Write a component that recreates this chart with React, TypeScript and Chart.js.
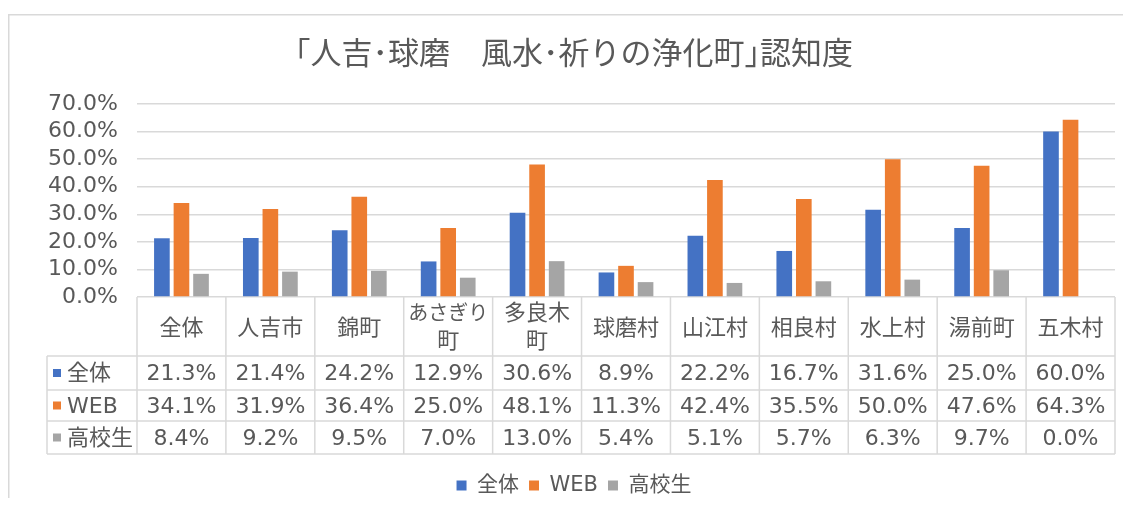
import React, { useEffect, useRef } from 'react';
import { Chart, registerables } from 'chart.js';

Chart.register(...registerables);

const titleText = '｢人吉･球磨　風水･祈りの浄化町｣認知度';
const categories = ['全体', '人吉市', '錦町', 'あさぎり町', '多良木町', '球磨村', '山江村', '相良村', '水上村', '湯前町', '五木村'];
const headerLines = [['全体'], ['人吉市'], ['錦町'], ['あさぎり', '町'], ['多良木', '町'], ['球磨村'], ['山江村'], ['相良村'], ['水上村'], ['湯前町'], ['五木村']];
const seriesNames = ['全体', 'WEB', '高校生'];
const allValues = [21.3, 21.4, 24.2, 12.9, 30.6, 8.9, 22.2, 16.7, 31.6, 25.0, 60.0];
const webValues = [34.1, 31.9, 36.4, 25.0, 48.1, 11.3, 42.4, 35.5, 50.0, 47.6, 64.3];
const hsValues = [8.4, 9.2, 9.5, 7.0, 13.0, 5.4, 5.1, 5.7, 6.3, 9.7, 0.0];
const yMin = 0;
const yMax = 70;
const yStep = 10;
const seriesColors = ['#4472C4', '#ED7D31', '#A5A5A5'];

const FONT = "'DejaVu Sans', 'Noto Sans CJK JP', sans-serif";
const CJK = "'Noto Sans CJK JP', sans-serif";
const TEXT = '#595959';
const LINE = '#D9D9D9';

const fmt = (v: number) => v.toFixed(1) + '%';

const framePlugin = {
  id: 'frame',
  beforeDraw(chart: any) {
    const { ctx, width, height } = chart;
    ctx.save();
    ctx.fillStyle = '#FFFFFF';
    ctx.fillRect(0, 0, width, height);
    ctx.strokeStyle = LINE;
    ctx.lineWidth = 1.5;
    ctx.strokeRect(0.75, 6.75, width + 20, height + 20);
    ctx.restore();
  },
};

const tablePlugin = {
  id: 'dataTable',
  afterDraw(chart: any) {
    const { ctx, chartArea } = chart;
    const xs = chart.scales.x;
    const n = categories.length;
    const colW = (chartArea.right - chartArea.left) / n;
    const top = chartArea.bottom;
    const edges = [top, top + 59, top + 93, top + 124, top + 157];
    const labelLeft = chartArea.left - 90;
    const seriesData = [allValues, webValues, hsValues];

    ctx.save();
    ctx.strokeStyle = LINE;
    ctx.lineWidth = 1.5;
    ctx.beginPath();
    for (let i = 0; i <= n; i++) {
      const xp = i < n ? xs.getPixelForValue(i) - colW / 2 : xs.getPixelForValue(n - 1) + colW / 2;
      ctx.moveTo(xp, edges[0]);
      ctx.lineTo(xp, edges[4]);
    }
    ctx.moveTo(labelLeft, edges[1]);
    ctx.lineTo(labelLeft, edges[4]);
    for (let r = 1; r <= 4; r++) {
      ctx.moveTo(labelLeft, edges[r]);
      ctx.lineTo(chartArea.right, edges[r]);
    }
    ctx.stroke();

    ctx.fillStyle = TEXT;
    ctx.textAlign = 'center';
    ctx.textBaseline = 'middle';
    // header
    for (let i = 0; i < n; i++) {
      const cx = xs.getPixelForValue(i);
      const lines = headerLines[i];
      if (lines.length === 1) {
        ctx.font = `22px ${CJK}`;
        ctx.fillText(lines[0], cx, top + 30);
      } else {
        ctx.font = `${lines[0].length > 3 ? 20 : 22}px ${CJK}`;
        ctx.fillText(lines[0], cx, top + 15);
        ctx.font = `22px ${CJK}`;
        ctx.fillText(lines[1], cx, top + 43);
      }
    }
    // rows
    ctx.font = `22px ${FONT}`;
    for (let s = 0; s < 3; s++) {
      const cy = (edges[s + 1] + edges[s + 2]) / 2 + 1.5;
      ctx.fillStyle = seriesColors[s];
      ctx.fillRect(labelLeft + 6, cy - 5.5, 8, 8);
      ctx.fillStyle = TEXT;
      ctx.textAlign = 'left';
      ctx.fillText(seriesNames[s], labelLeft + 20, cy);
      ctx.textAlign = 'center';
      for (let i = 0; i < n; i++) {
        ctx.fillText(fmt(seriesData[s][i]), xs.getPixelForValue(i), cy);
      }
    }
    ctx.restore();
  },
};

export default function App() {
  const canvasRef = useRef<HTMLCanvasElement | null>(null);

  useEffect(() => {
    if (!canvasRef.current) return;
    const chart = new Chart(canvasRef.current, {
      type: 'bar',
      data: {
        labels: categories,
        datasets: [
          { label: seriesNames[0], data: allValues, backgroundColor: seriesColors[0], borderWidth: 0 },
          { label: seriesNames[1], data: webValues, backgroundColor: seriesColors[1], borderWidth: 0 },
          { label: seriesNames[2], data: hsValues, backgroundColor: seriesColors[2], borderWidth: 0 },
        ],
      },
      options: {
        responsive: true,
        maintainAspectRatio: false,
        animation: false,
        events: [],
        layout: { padding: { left: 25, right: 16, top: 0, bottom: 0 } },
        datasets: { bar: { categoryPercentage: 0.66, barPercentage: 0.8 } },
        scales: {
          x: {
            grid: { display: false },
            border: { display: false },
            ticks: { display: false },
            afterFit: (scale: any) => { scale.height = 168; },
          },
          y: {
            min: yMin,
            max: yMax,
            ticks: {
              stepSize: yStep,
              autoSkip: false,
              color: TEXT,
              font: { family: FONT, size: 22 },
              padding: 19,
              callback: (v: any) => fmt(Number(v)),
            },
            grid: { color: LINE, lineWidth: 1.5, drawTicks: false },
            border: { display: false },
            afterFit: (scale: any) => { scale.width = 104; },
          },
        },
        plugins: {
          title: {
            display: true,
            text: titleText,
            color: TEXT,
            font: { family: CJK, size: 31, weight: 'normal' },
            padding: { top: 25.4, bottom: 33.4 },
          },
          legend: {
            position: 'bottom',
            labels: {
              boxWidth: 10,
              boxHeight: 10,
              padding: 10,
              color: TEXT,
              font: { family: FONT, size: 21 },
            },
          },
          tooltip: { enabled: false },
        },
      },
      plugins: [framePlugin, tablePlugin],
    } as any);
    return () => chart.destroy();
  }, []);

  return (
    <div style={{ position: 'relative', width: 1123, height: 498, marginBottom: -8 }}>
      <canvas ref={canvasRef} />
    </div>
  );
}
